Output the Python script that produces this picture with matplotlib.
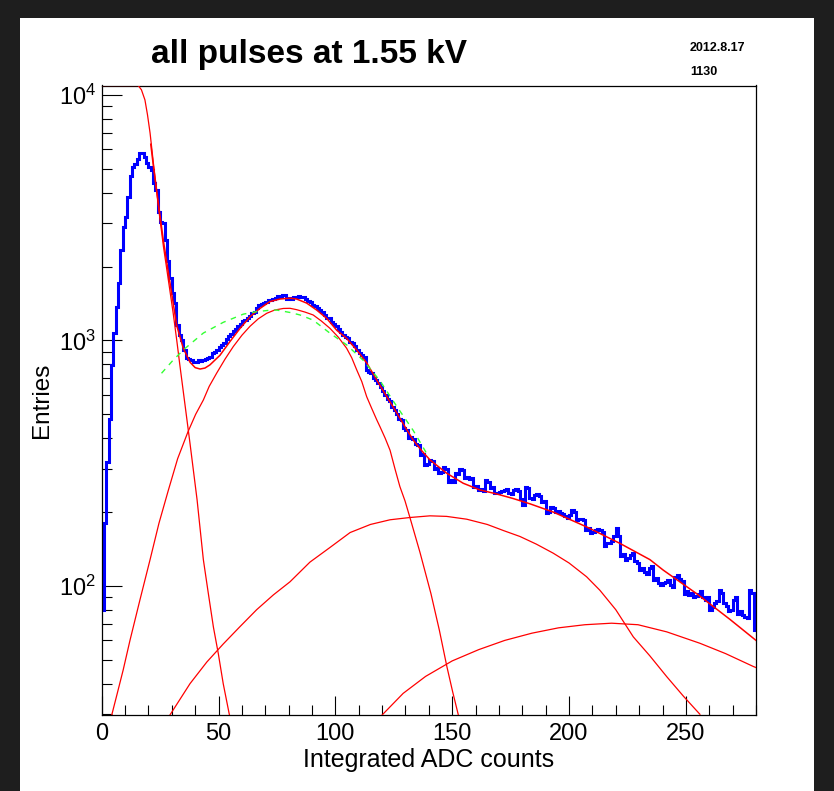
"import modules"
import numpy as np
import matplotlib
matplotlib.use("Agg")
import matplotlib.pyplot as plt
from matplotlib.patches import Rectangle

plt.rcParams['font.family'] = ['Liberation Sans', 'DejaVu Sans']
plt.rcParams['mathtext.fontset'] = 'custom'
plt.rcParams['mathtext.rm'] = 'Liberation Sans'
plt.rcParams['mathtext.bf'] = 'Liberation Sans:bold'
plt.rcParams['mathtext.default'] = 'regular'

# histogram contents, one bin per ADC count (0 - 280)
counts = [
    80, 180, 320, 480, 795, 1069, 1374, 1711, 2339, 2893,
    3194, 3831, 4674, 5103, 5236, 5470, 5785, 5785, 5600, 5270,
    5070, 4946, 4390, 4100, 3350, 3050, 3010, 2565, 2100, 1800,
    1555, 1418, 1160, 1053, 1004, 915, 846, 840, 833, 820,
    815, 833, 825, 833, 840, 850, 860, 885, 900, 915,
    940, 955, 980, 1010, 1040, 1060, 1090, 1110, 1140, 1170,
    1200, 1215, 1240, 1260, 1290, 1310, 1350, 1400, 1405, 1420,
    1440, 1460, 1465, 1480, 1490, 1515, 1500, 1530, 1525, 1480,
    1485, 1480, 1510, 1505, 1515, 1510, 1500, 1470, 1450, 1430,
    1400, 1385, 1360, 1335, 1310, 1270, 1240, 1230, 1190, 1170,
    1140, 1110, 1080, 1053, 1035, 1020, 990, 975, 945, 915,
    890, 870, 860, 760, 745, 735, 700, 690, 670, 645,
    620, 600, 580, 565, 535, 520, 500, 480, 475, 440,
    430, 400, 405, 395, 380, 375, 342, 345, 311, 315,
    326, 322, 300, 302, 288, 290, 306, 300, 266, 270,
    266, 288, 285, 300, 296, 275, 278, 272, 275, 254,
    256, 246, 248, 244, 270, 266, 250, 252, 238, 240,
    242, 244, 246, 248, 238, 236, 246, 248, 244, 226,
    214, 254, 250, 228, 226, 234, 236, 232, 220, 222,
    198, 200, 210, 208, 200, 202, 198, 196, 192, 190,
    194, 204, 200, 185, 187, 188, 186, 169, 172, 164,
    166, 169, 171, 169, 166, 145, 150, 149, 152, 159,
    172, 160, 132, 135, 128, 130, 134, 136, 126, 124,
    116, 118, 114, 112, 118, 120, 106, 108, 103, 101,
    103, 104, 106, 101, 99, 109, 111, 107, 105, 93,
    95, 92, 94, 90, 91, 93, 95, 90, 88, 90,
    80, 82, 85, 87, 96, 94, 85, 83, 79, 80,
    88, 90, 77, 79, 76, 75, 74, 96, 94, 66,
]
edges = np.arange(0, 281)

# total fit (red)
fit_x = [21.0, 22.1, 24.2, 26.4, 28.5, 30.6, 32.1, 34.9, 37.8, 40.0,
         42.1, 44.2, 46.3, 50.6, 54.9, 59.2, 63.5, 67.7, 72.0, 76.3,
         80.6, 83.4, 87.7, 92.0, 96.3, 100.6, 104.8, 109.1, 113.4, 117.7,
         122.0, 126.2, 129.8, 133.3, 137.0, 140.5, 147.6, 154.7, 161.9, 169.0,
         176.1, 183.3, 193.2, 207.5, 221.8, 234.6, 240.3, 254.6, 268.9, 280.0]
fit_y = [6300, 5150, 3650, 2550, 1900, 1420, 1150, 930, 815, 775,
         765, 772, 795, 870, 990, 1120, 1250, 1350, 1440, 1475,
         1487, 1475, 1420, 1330, 1230, 1100, 1020, 915, 810, 690,
         590, 508, 445, 393, 355, 326, 288, 262, 246, 237,
         227, 216, 200, 174, 149, 128, 116, 93, 73, 60]

# pedestal component
ped_x = [0.0, 15.6, 17.0, 18.5, 19.6, 20.7, 22.1, 24.2, 26.4, 28.5,
         30.6, 32.1, 33.4, 35.2, 37.8, 40.8, 43.5, 45.5, 47.8, 49.9,
         52.0, 54.6, 55.0]
ped_y = [10930, 10930, 10500, 9550, 8300, 7000, 5300, 3550, 2420, 1770,
         1290, 1005, 800, 590, 380, 225, 128, 95, 68, 53,
         40, 30, 29]

# 1 p.e. gaussian
g1_x = [4.3, 6.5, 9.2, 12.1, 16.4, 20.7, 24.5, 28.5, 32.5, 36.9,
        40.2, 43.5, 46.0, 49.2, 52.8, 56.3, 60.0, 63.5, 67.0, 70.6,
        74.0, 77.7, 80.6, 83.4, 87.0, 90.5, 94.0, 97.7, 101.3, 104.8,
        107.0, 109.1, 111.3, 113.4, 115.5, 117.7, 119.1, 121.3, 123.4, 125.5,
        127.6, 129.8, 131.9, 136.2, 140.9, 144.5, 147.7, 150.2, 152.7]
g1_y = [29.8, 36, 45.5, 60, 88, 128, 180, 245, 330, 424,
        500, 572, 650, 736, 840, 944, 1050, 1143, 1225, 1290,
        1330, 1350, 1352, 1335, 1305, 1270, 1200, 1120, 1030, 930,
        850, 760, 680, 590, 530, 475, 445, 400, 357, 300,
        254, 222, 190, 137, 93, 66, 47, 37, 29.6]

# 2 p.e. gaussian
g2_x = [29.2, 37.8, 45.0, 52.0, 59.0, 66.3, 73.5, 80.6, 89.1, 97.5,
        106.3, 115.0, 123.4, 131.9, 140.5, 147.6, 156.2, 165.0, 172.0, 179.0,
        186.0, 193.2, 200.0, 207.5, 213.2, 220.0, 227.5, 234.5, 241.8, 249.0,
        256.0]
g2_y = [29.8, 40, 49, 58, 68, 80, 92, 104, 125, 143,
        165, 178, 186, 190, 193, 192, 187, 178, 168, 159,
        148, 136, 124, 109, 96, 80, 62, 52, 42.7, 35.5,
        30]

# 3 p.e. gaussian
g3_x = [120.0, 129.0, 138.6, 150.0, 161.3, 172.5, 184.1, 195.5, 206.8, 218.2,
        229.5, 241.8, 256.0, 267.0, 278.8, 280.0]
g3_y = [29.8, 36.5, 42.8, 49.5, 55, 60, 64.2, 67.5, 69.5, 70.5,
        69.5, 65, 58.4, 53, 47, 46.5]

# single gaussian fit (green dashed)
gaus_x = [25.6, 30.0, 34.9, 37.8, 43.5, 52.0, 60.6, 66.3, 71.0, 74.9,
          80.6, 84.9, 90.5, 97.7, 104.8, 111.9, 119.1, 126.2, 133.3, 139.1]
gaus_y = [735, 820, 915, 965, 1072, 1185, 1280, 1310, 1325, 1330,
          1300, 1270, 1210, 1070, 960, 830, 685, 540, 430, 346]

stats = ["R\u03c7\u00b2 = 2.08",
         "gain = (4.80 \u00b1 0.01)  \u00d710$^{6}$",
         "res.  = 33.8 \u00b1 0.01 %",
         "peak/valley.  = 1486.6 / 764.4 = 1.9"]

W, H = 834, 791
fig = plt.figure(figsize=(W / 100, H / 100), dpi=100, facecolor="#1e1e1e")

# white ROOT canvas inside the dark window (kept behind the axes)
fig.patches.append(Rectangle((20 / W, 0), (814 - 20) / W, (H - 18) / H,
                             transform=fig.transFigure, facecolor="white",
                             edgecolor="none", zorder=-10))

ax = fig.add_axes([101.7 / W, 1 - 715 / H, (756 - 101.7) / W, (715 - 85.5) / H])
ax.set_zorder(5)
ax.set_yscale("log")

# histogram
ax.stairs(counts, edges, color="#0000ff", linewidth=2.2, baseline=None, zorder=2)

# fit components
ax.plot(ped_x, ped_y, color="#ff0000", linewidth=0.9, zorder=3)
ax.plot(g1_x, g1_y, color="#ff0000", linewidth=0.9, zorder=3)
ax.plot(g2_x, g2_y, color="#ff0000", linewidth=0.9, zorder=3)
ax.plot(g3_x, g3_y, color="#ff0000", linewidth=0.9, zorder=3)
ax.plot(fit_x, fit_y, color="#ff0000", linewidth=1.1, zorder=3)
ax.plot(gaus_x, gaus_y, color="#33ff33", linewidth=1.0, linestyle=(0, (4, 4)), zorder=3)

ax.set_xlim(0, 280)
ax.set_ylim(29.8, 10930)

# ticks inside, ROOT style
ax.set_xticks([0, 50, 100, 150, 200, 250])
ax.set_xticks(np.arange(0, 281, 10), minor=True)
ax.set_yticks([100, 1000, 10000])
ax.set_yticklabels(["$10^{2}$", "$10^{3}$", "$10^{4}$"])
ax.tick_params(axis="both", which="both", direction="in", top=False, right=False,
               width=0.8, color="black")
ax.tick_params(axis="x", which="major", length=13.5, labelsize=17, pad=6)
ax.tick_params(axis="x", which="minor", length=7)
ax.tick_params(axis="y", which="major", length=14.5, labelsize=17, pad=4)
ax.tick_params(axis="y", which="minor", length=7.2, labelleft=False)
for s in ax.spines.values():
    s.set_linewidth(0.9)

# labeling
ax.set_xlabel("Integrated ADC counts", fontsize=18, labelpad=2)
ax.set_ylabel("Entries", fontsize=17.5, labelpad=4)

fig.text(309 / W, 1 - 55 / H, "all pulses at 1.55 kV", fontsize=24,
         fontweight="bold", ha="center", va="center")
fig.text(690 / W, 1 - 48 / H, "2012.8.17", fontsize=9, fontweight="bold",
         ha="left", va="center")
fig.text(690 / W, 1 - 72 / H, "1130", fontsize=9, fontweight="bold",
         ha="left", va="center")

for i, line in enumerate(stats):
    fig.text(399 / W, 1 - (105 + 31 * i) / H, line, fontsize=15,
             fontweight="bold", ha="left", va="center")

plt.savefig("out.png", dpi=100, facecolor=fig.get_facecolor())
